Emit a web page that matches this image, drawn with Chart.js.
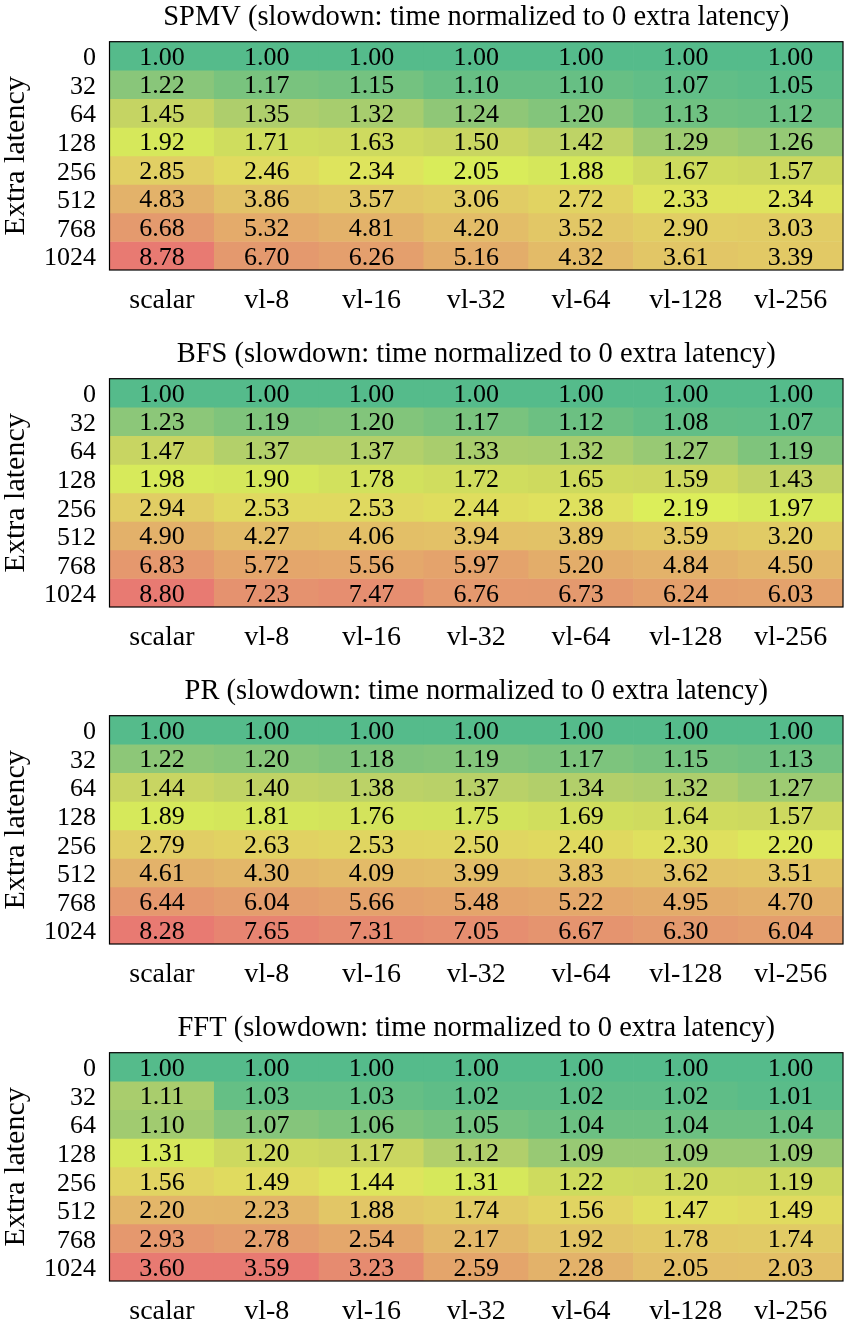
<!DOCTYPE html>
<html>
<head>
<meta charset="utf-8">
<script src="https://cdn.jsdelivr.net/npm/chart.js@4.4.1/dist/chart.umd.min.js"></script>
<style>
  html, body { margin: 0; padding: 0; background: #fff; overflow: hidden; }
  .panel { position: absolute; left: 0; width: 847px; height: 312px; }
</style>
</head>
<body>
<div class="panel" style="top:0px"><canvas id="c0" width="847" height="312"></canvas></div>
<div class="panel" style="top:337px"><canvas id="c1" width="847" height="312"></canvas></div>
<div class="panel" style="top:674px"><canvas id="c2" width="847" height="312"></canvas></div>
<div class="panel" style="top:1011px"><canvas id="c3" width="847" height="312"></canvas></div>
<script>
const columns = ["scalar", "vl-8", "vl-16", "vl-32", "vl-64", "vl-128", "vl-256"];
const latencies = ["0", "32", "64", "128", "256", "512", "768", "1024"];
const titleSuffix = " (slowdown: time normalized to 0 extra latency)";

const spmv = [
  [1.00, 1.00, 1.00, 1.00, 1.00, 1.00, 1.00],
  [1.22, 1.17, 1.15, 1.10, 1.10, 1.07, 1.05],
  [1.45, 1.35, 1.32, 1.24, 1.20, 1.13, 1.12],
  [1.92, 1.71, 1.63, 1.50, 1.42, 1.29, 1.26],
  [2.85, 2.46, 2.34, 2.05, 1.88, 1.67, 1.57],
  [4.83, 3.86, 3.57, 3.06, 2.72, 2.33, 2.34],
  [6.68, 5.32, 4.81, 4.20, 3.52, 2.90, 3.03],
  [8.78, 6.70, 6.26, 5.16, 4.32, 3.61, 3.39],
];
const bfs = [
  [1.00, 1.00, 1.00, 1.00, 1.00, 1.00, 1.00],
  [1.23, 1.19, 1.20, 1.17, 1.12, 1.08, 1.07],
  [1.47, 1.37, 1.37, 1.33, 1.32, 1.27, 1.19],
  [1.98, 1.90, 1.78, 1.72, 1.65, 1.59, 1.43],
  [2.94, 2.53, 2.53, 2.44, 2.38, 2.19, 1.97],
  [4.90, 4.27, 4.06, 3.94, 3.89, 3.59, 3.20],
  [6.83, 5.72, 5.56, 5.97, 5.20, 4.84, 4.50],
  [8.80, 7.23, 7.47, 6.76, 6.73, 6.24, 6.03],
];
const pr = [
  [1.00, 1.00, 1.00, 1.00, 1.00, 1.00, 1.00],
  [1.22, 1.20, 1.18, 1.19, 1.17, 1.15, 1.13],
  [1.44, 1.40, 1.38, 1.37, 1.34, 1.32, 1.27],
  [1.89, 1.81, 1.76, 1.75, 1.69, 1.64, 1.57],
  [2.79, 2.63, 2.53, 2.50, 2.40, 2.30, 2.20],
  [4.61, 4.30, 4.09, 3.99, 3.83, 3.62, 3.51],
  [6.44, 6.04, 5.66, 5.48, 5.22, 4.95, 4.70],
  [8.28, 7.65, 7.31, 7.05, 6.67, 6.30, 6.04],
];
const fft = [
  [1.00, 1.00, 1.00, 1.00, 1.00, 1.00, 1.00],
  [1.11, 1.03, 1.03, 1.02, 1.02, 1.02, 1.01],
  [1.10, 1.07, 1.06, 1.05, 1.04, 1.04, 1.04],
  [1.31, 1.20, 1.17, 1.12, 1.09, 1.09, 1.09],
  [1.56, 1.49, 1.44, 1.31, 1.22, 1.20, 1.19],
  [2.20, 2.23, 1.88, 1.74, 1.56, 1.47, 1.49],
  [2.93, 2.78, 2.54, 2.17, 1.92, 1.78, 1.74],
  [3.60, 3.59, 3.23, 2.59, 2.28, 2.05, 2.03],
];

const panels = [
  { name: "SPMV", values: spmv },
  { name: "BFS", values: bfs },
  { name: "PR", values: pr },
  { name: "FFT", values: fft },
];

// green -> lime -> orange -> red, on value normalized to the panel's range
const colorStops = [
  [0.000, [85, 187, 139]],
  [0.010, [98, 190, 134]],
  [0.020, [117, 194, 127]],
  [0.028, [136, 198, 122]],
  [0.040, [165, 204, 111]],
  [0.050, [184, 209, 104]],
  [0.060, [200, 213, 98]],
  [0.075, [205, 216, 95]],
  [0.090, [207, 220, 94]],
  [0.110, [212, 230, 91]],
  [0.150, [220, 239, 90]],
  [0.170, [222, 229, 93]],
  [0.190, [224, 218, 95]],
  [0.240, [225, 206, 100]],
  [0.330, [226, 199, 102]],
  [0.420, [227, 188, 104]],
  [0.500, [227, 177, 106]],
  [0.600, [228, 166, 107]],
  [0.700, [228, 157, 109]],
  [0.850, [230, 140, 112]],
  [1.000, [232, 122, 114]],
];

function corDaCelula(v, min, max) {
  const t = Math.min(1, Math.max(0, (v - min) / (max - min)));
  for (let i = 1; i < colorStops.length; i++) {
    const [t1, c1] = colorStops[i];
    const [t0, c0] = colorStops[i - 1];
    if (t <= t1) {
      const f = (t - t0) / (t1 - t0);
      const c = c0.map((a, k) => Math.round(a + (c1[k] - a) * f));
      return `rgb(${c[0]}, ${c[1]}, ${c[2]})`;
    }
  }
  return "rgb(232, 122, 114)";
}

const fonte = "'Liberation Serif', 'Times New Roman', serif";

// numbers in cells + frame + title
const heatPlugin = {
  id: "heatLabels",
  afterDatasetsDraw(chart) {
    const ctx = chart.ctx;
    const valores = chart.options.plugins.heatLabels.values;
    ctx.save();
    ctx.font = `26px ${fonte}`;
    ctx.fillStyle = "#000";
    ctx.textAlign = "center";
    ctx.textBaseline = "middle";
    chart.data.datasets.forEach((ds, i) => {
      const meta = chart.getDatasetMeta(i);
      meta.data.forEach((el, j) => {
        const meio = (el.y + el.base) / 2;
        ctx.fillText(valores[i][j].toFixed(2), el.x, meio + 2);
      });
    });
    const a = chart.chartArea;
    ctx.strokeStyle = "#000";
    ctx.lineWidth = 1.2;
    ctx.strokeRect(a.left, a.top, a.right - a.left, a.bottom - a.top);
    ctx.restore();
  },
  afterDraw(chart) {
    const ctx = chart.ctx;
    const a = chart.chartArea;
    ctx.save();
    ctx.font = `28.5px ${fonte}`;
    ctx.fillStyle = "#000";
    ctx.textAlign = "center";
    ctx.textBaseline = "alphabetic";
    ctx.fillText(chart.options.plugins.heatLabels.title, (a.left + a.right) / 2, 25);
    ctx.restore();
  },
};

panels.forEach((p, idx) => {
  const vals = p.values.flat();
  const min = Math.min(...vals);
  const max = Math.max(...vals);

  const datasets = latencies.map((lat, i) => ({
    label: lat,
    data: columns.map(() => [i - 0.5, i + 0.5]),
    backgroundColor: p.values[i].map((v) => corDaCelula(v, min, max)),
    borderWidth: 0,
    barPercentage: 1,
    categoryPercentage: 1,
    grouped: false,
  }));

  new Chart(document.getElementById("c" + idx), {
    type: "bar",
    data: { labels: columns, datasets },
    plugins: [heatPlugin],
    options: {
      responsive: false,
      animation: false,
      layout: { padding: { top: 41.7, left: 1, right: 4, bottom: 0 } },
      plugins: {
        legend: { display: false },
        tooltip: { enabled: false },
        heatLabels: { values: p.values, title: p.name + titleSuffix },
      },
      scales: {
        x: {
          grid: { display: false, drawTicks: false },
          border: { display: false },
          ticks: { color: "#000", padding: 13.6, font: { family: fonte, size: 28 } },
          afterFit: (scale) => { scale.height = 42; },
        },
        y: {
          min: -0.5,
          max: 7.5,
          reverse: true,
          grid: { display: false, drawTicks: false },
          border: { display: false },
          // small shift so the tick text lines up with the cell numbers
          afterBuildTicks: (scale) => {
            scale.ticks = latencies.map((_, i) => ({ value: i + 0.09 }));
          },
          ticks: {
            autoSkip: false,
            color: "#000",
            padding: 13.5,
            font: { family: fonte, size: 26 },
            callback: (v) => latencies[Math.round(v)],
          },
          title: {
            display: true,
            text: "Extra latency",
            color: "#000",
            padding: { top: 0, bottom: 0 },
            font: { family: fonte, size: 30, lineHeight: 1 },
          },
          afterFit: (scale) => { scale.width = 108.5; },
        },
      },
    },
  });
});
</script>
</body>
</html>
